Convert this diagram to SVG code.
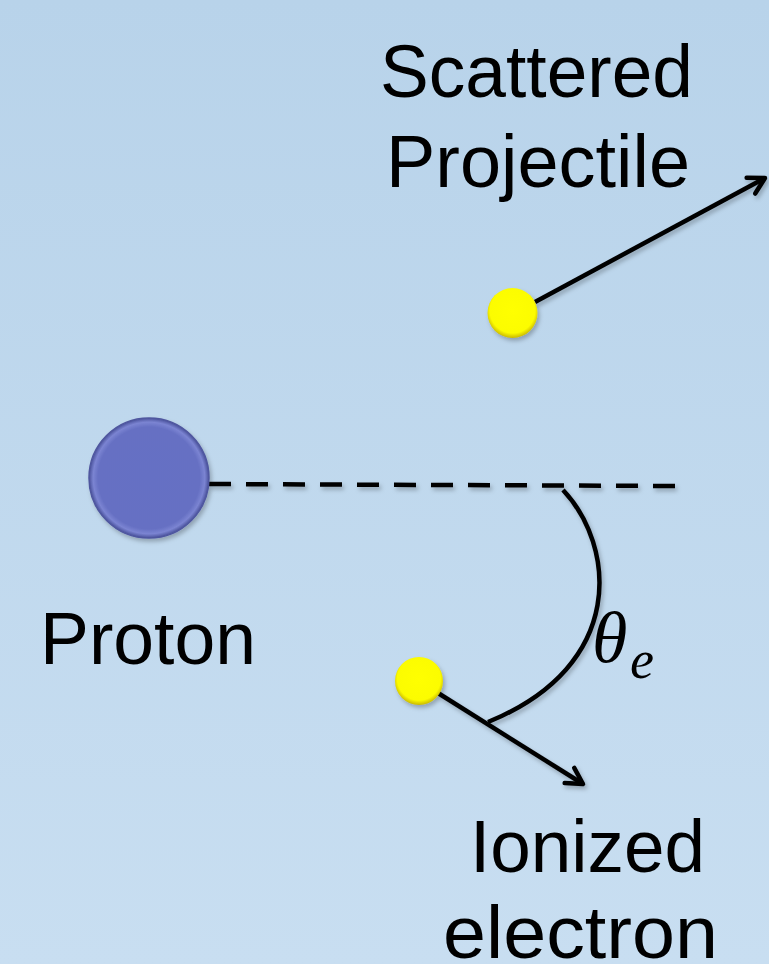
<svg xmlns="http://www.w3.org/2000/svg" width="769" height="964" viewBox="0 0 769 964">
<defs>
<linearGradient id="bg" x1="0" y1="0" x2="0" y2="1">
<stop offset="0" stop-color="#b8d3ea"/>
<stop offset="1" stop-color="#c8def1"/>
</linearGradient>
<radialGradient id="yel" cx="0.5" cy="0.45" r="0.55">
<stop offset="0" stop-color="#ffff00"/>
<stop offset="0.82" stop-color="#fcfc00"/>
<stop offset="1" stop-color="#c9b800"/>
</radialGradient>
<radialGradient id="pur" cx="0.5" cy="0.5" r="0.5">
<stop offset="0" stop-color="#6570c4"/>
<stop offset="0.85" stop-color="#6670c3"/>
<stop offset="0.93" stop-color="#7b84d2"/>
<stop offset="1" stop-color="#4a529c"/>
</radialGradient>
<filter id="sh" x="-20%" y="-20%" width="140%" height="140%">
<feDropShadow dx="2" dy="3" stdDeviation="2" flood-color="#000" flood-opacity="0.25"/>
</filter>
<marker id="arr" viewBox="0 0 24 24" refX="20" refY="12" markerWidth="24" markerHeight="24" markerUnits="userSpaceOnUse" orient="auto">
<path d="M4,3 L20,12 L4,21" fill="none" stroke="#000" stroke-width="4.5" stroke-linecap="round" stroke-linejoin="round"/>
</marker>
<style>
.lbl{font-family:"Liberation Sans",Arial,sans-serif;font-size:75px;fill:#000}
.ln{stroke:#000;stroke-width:4.5;fill:none}
.math{font-family:"Liberation Serif","DejaVu Serif",serif;font-style:italic;fill:#000}
</style>
</defs>
<rect width="769" height="964" fill="url(#bg)"/>
<g id="connectors" filter="url(#sh)">
<line id="proj-arrow" class="ln" x1="535" y1="302" x2="765" y2="178" marker-end="url(#arr)"/>
<line id="elec-arrow" class="ln" x1="438" y1="693" x2="583" y2="784" marker-end="url(#arr)"/>
<line id="axis" class="ln" x1="209" y1="484" x2="680" y2="486" stroke-dasharray="22,15"/>
<path id="angle-arc" class="ln" d="M563,490 C615,545 628,665 488,722"/>
</g>
<g id="proton">
<circle cx="149" cy="478" r="60" fill="url(#pur)" stroke="#4f579f" stroke-width="1.5" filter="url(#sh)"/>
<text class="lbl" x="40" y="664" textLength="216" lengthAdjust="spacingAndGlyphs">Proton</text>
</g>
<g id="projectile">
<circle cx="512.5" cy="313" r="25" fill="url(#yel)" filter="url(#sh)"/>
<text class="lbl" x="380" y="97" textLength="313" lengthAdjust="spacingAndGlyphs">Scattered</text>
<text class="lbl" x="386" y="187" textLength="304" lengthAdjust="spacingAndGlyphs">Projectile</text>
</g>
<g id="electron">
<circle cx="419" cy="681" r="24" fill="url(#yel)" filter="url(#sh)"/>
<text class="lbl" x="470" y="872" textLength="235" lengthAdjust="spacingAndGlyphs">Ionized</text>
<text class="lbl" x="443" y="958" textLength="275" lengthAdjust="spacingAndGlyphs">electron</text>
</g>
<g id="theta">
<text class="math" x="592" y="662" font-size="72">θ</text>
<text class="math" x="630" y="678" font-size="54">e</text>
</g>
</svg>
